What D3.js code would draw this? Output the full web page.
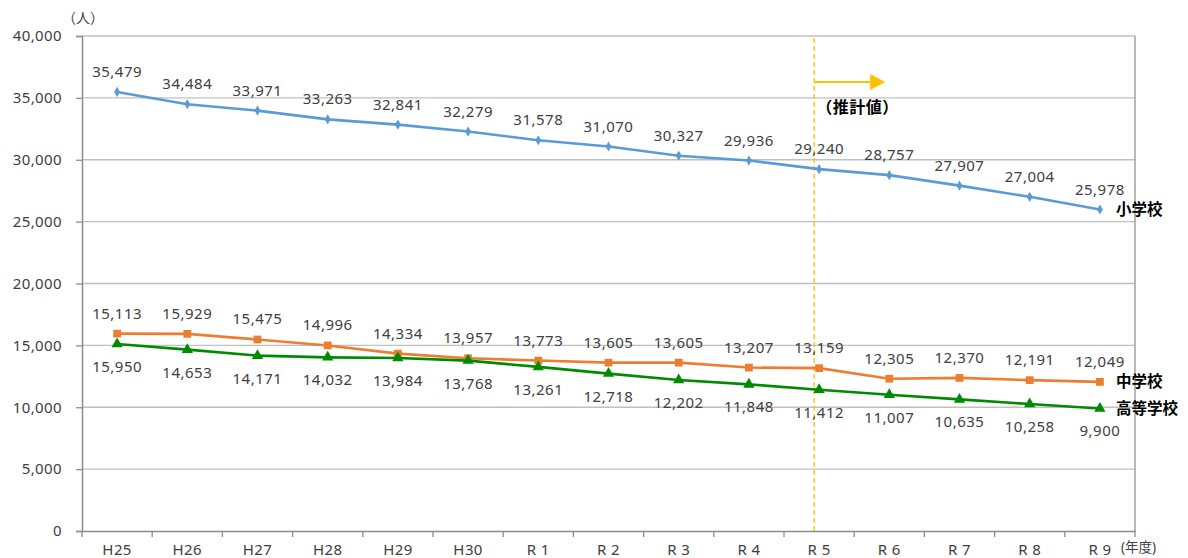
<!DOCTYPE html>
<html><head><meta charset="utf-8">
<script src="https://cdn.jsdelivr.net/npm/d3@7"></script>
<style>
body{margin:0;background:#fff;}
svg{display:block;}
text{font-family:"Noto Sans","Noto Sans CJK JP",sans-serif;}
</style></head>
<body><svg id="c" width="1188" height="558"></svg>
<script>
const categories = ["H25","H26","H27","H28","H29","H30","R 1","R 2","R 3","R 4","R 5","R 6","R 7","R 8","R 9"];
const elementary = [35479,34484,33971,33263,32841,32279,31578,31070,30327,29936,29240,28757,27907,27004,25978];
const juniorHigh = [15950,15929,15475,14996,14334,13957,13773,13605,13605,13207,13159,12305,12370,12191,12049];
const highSchool = [15113,14653,14171,14032,13984,13768,13261,12718,12202,11848,11412,11007,10635,10258,9900];
// label texts as printed in the original (first two swapped there)
const juniorHighLabels = [15113,15929,15475,14996,14334,13957,13773,13605,13605,13207,13159,12305,12370,12191,12049];
const highSchoolLabels = [15950,14653,14171,14032,13984,13768,13261,12718,12202,11848,11412,11007,10635,10258,9900];
const yTicks = [0,5000,10000,15000,20000,25000,30000,35000,40000];
const seriesNames = ["小学校","中学校","高等学校"];
const estimateStart = "R 5";

const svg = d3.select("#c");
const L=82, R=1135, T=36, B=531;
const x = d3.scaleBand().domain(categories).range([L,R]);
const y = d3.scaleLinear().domain([0,40000]).range([B,T]);
const cx = d => x(d)+x.bandwidth()/2;
const fmt = d3.format(",");

// grid
svg.append("g").selectAll("line").data(yTicks.filter(d=>d>0)).join("line")
  .attr("x1",L).attr("x2",R).attr("y1",d=>y(d)).attr("y2",d=>y(d))
  .attr("stroke","#c0c0c0").attr("stroke-width",1.3);
// right border
svg.append("line").attr("x1",R).attr("x2",R).attr("y1",T).attr("y2",B).attr("stroke","#a0a0a0").attr("stroke-width",1.5);

// y axis
const ya = svg.append("g").attr("transform",`translate(${L},0)`)
  .call(d3.axisLeft(y).tickValues(yTicks).tickFormat(fmt).tickSize(6).tickPadding(14));
ya.select(".domain").attr("stroke","#8c8c8c").attr("stroke-width",1.5);
ya.selectAll(".tick line").attr("stroke","#8c8c8c").attr("stroke-width",1.3);
ya.selectAll("text").attr("font-size",15).attr("fill","#404040").attr("letter-spacing","0.4px");

// x axis
const xa = svg.append("g").attr("transform",`translate(0,${B})`)
  .call(d3.axisBottom(x).tickSize(0).tickPadding(13));
xa.select(".domain").attr("stroke","#8c8c8c").attr("stroke-width",1.5);
xa.selectAll("text").attr("font-size",15).attr("fill","#404040").attr("letter-spacing","0.4px");
svg.append("g").selectAll("line").data(d3.range(categories.length+1)).join("line")
  .attr("x1",i=>L+i*x.bandwidth()).attr("x2",i=>L+i*x.bandwidth())
  .attr("y1",B).attr("y2",B+6).attr("stroke","#8c8c8c").attr("stroke-width",1.3);

// axis unit labels
svg.append("text").attr("x",83).attr("y",23).attr("text-anchor","middle").attr("font-size",14).attr("fill","#404040").text("（人）");
svg.append("text").attr("x",1121).attr("y",552).attr("text-anchor","start").attr("font-size",13.5).attr("fill","#404040").text("(年度)");

// estimate marker
const ex = x(estimateStart)+x.bandwidth()*0.43;
svg.append("line").attr("x1",ex).attr("x2",ex).attr("y1",T+2).attr("y2",B)
  .attr("stroke","#FFC000").attr("stroke-width",1.3).attr("stroke-dasharray","5,3");
svg.append("line").attr("x1",ex).attr("x2",ex+56).attr("y1",82).attr("y2",82).attr("stroke","#FFC000").attr("stroke-width",2);
svg.append("path").attr("d",`M${ex+56},74 L${ex+71},82 L${ex+56},90 Z`).attr("fill","#FFC000");
svg.append("text").attr("x",ex+2).attr("y",113).attr("font-size",16).attr("font-weight","bold").attr("fill","#000")
  .attr("letter-spacing","0.5px").attr("font-family","Noto Sans CJK JP").text("（推計値）");

// series
const series = [
  {vals:elementary, labels:elementary, color:"#5B9BD5", sym:d3.symbolDiamond, size:30, dy:-15, name:seriesNames[0]},
  {vals:juniorHigh, labels:juniorHighLabels, color:"#ED7D31", sym:d3.symbolSquare, size:60, dy:-15, name:seriesNames[1]},
  {vals:highSchool, labels:highSchoolLabels, color:"#008A00", sym:d3.symbolTriangle, size:55, dy:28, name:seriesNames[2]}
];
const line = d3.line().x((d,i)=>cx(categories[i])).y(d=>y(d));
series.forEach(s=>{
  svg.append("path").datum(s.vals).attr("d",line).attr("fill","none").attr("stroke",s.color).attr("stroke-width",2.6);
  svg.append("g").selectAll("path").data(s.vals).join("path")
    .attr("d",d3.symbol(s.sym,s.size)).attr("fill",s.color)
    .attr("transform",(d,i)=>`translate(${cx(categories[i])},${y(d)})`);
  svg.append("g").selectAll("text").data(s.labels).join("text")
    .attr("x",(d,i)=>cx(categories[i])).attr("y",(d,i)=>y(s.vals[i])+s.dy)
    .attr("text-anchor","middle").attr("font-size",15).attr("fill","#404040").attr("letter-spacing","0.5px")
    .text(d=>fmt(d));
});
// series names
const nameY = [elementary[14], juniorHigh[14], highSchool[14]];
svg.append("g").selectAll("text").data(series).join("text")
  .attr("x",cx(categories[14])+16).attr("y",(d,i)=>y(nameY[i])+(i===2?6:5))
  .attr("font-size",15.5).attr("font-weight","bold").attr("fill","#000").attr("font-family","Noto Sans CJK JP")
  .text(d=>d.name);
</script></body></html>
